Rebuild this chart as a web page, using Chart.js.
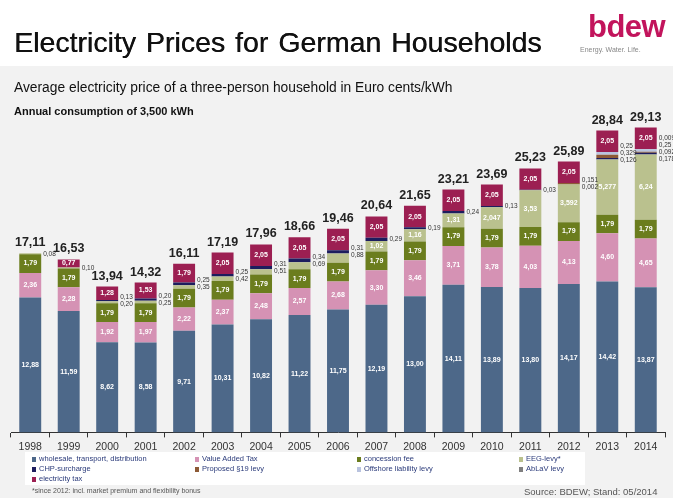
<!DOCTYPE html>
<html>
<head>
<meta charset="utf-8">
<script src="https://cdn.jsdelivr.net/npm/chart.js@4"></script>
<style>
  body { margin: 0; background: #fff; font-family: "Liberation Sans", Arial, sans-serif; }
  #page { position: relative; width: 673px; height: 498px; overflow: hidden; }
  #band { position: absolute; left: 0; top: 66px; width: 673px; height: 432px; background: #f2f2f2; }
  #chart { position: absolute; left: 0; top: 0; }
  .txt { position: absolute; white-space: nowrap; }
  #title { left: 14px; top: 26px; font-size: 28.5px; color: #111; text-shadow: 0.4px 0 0 #111; word-spacing: 2px; }
  #logo { left: 588px; top: 9px; font-size: 31px; font-weight: bold; color: #c2145c; letter-spacing: -0.5px; }
  #claim { left: 580px; top: 46px; font-size: 7px; color: #888; }
  #sub1 { left: 14px; top: 80px; font-size: 13.8px; color: #111; }
  #sub2 { left: 14px; top: 105px; font-size: 11px; font-weight: bold; color: #111; }
  #legend { position: absolute; left: 25px; top: 452px; width: 560px; height: 33px; background: #fff; }
  .lg { position: absolute; font-size: 7.5px; color: #2a3a7a; white-space: nowrap; }
  .lg i { display: inline-block; width: 4px; height: 5px; margin-right: 3px; vertical-align: middle; }
  #foot { left: 32px; top: 487px; font-size: 7px; color: #555; }
  #source { left: 524px; top: 486px; font-size: 9.5px; color: #555; }
</style>
</head>
<body>
<div id="page">
  <div id="band"></div>
  <canvas id="chart" width="673" height="498"></canvas>
  <div class="txt" id="title">Electricity Prices for German Households</div>
  <div class="txt" id="logo">bdew</div>
  <div class="txt" id="claim">Energy. Water. Life.</div>
  <div class="txt" id="sub1">Average electricity price of a three-person household in Euro cents/kWh</div>
  <div class="txt" id="sub2">Annual consumption of 3,500 kWh</div>
  <div id="legend"></div>
  <div class="txt" id="foot">*since 2012: incl. market premium and flexibility bonus</div>
  <div class="txt" id="source">Source: BDEW; Stand: 05/2014</div>
</div>
<script>
// Data (Euro cents/kWh)
const years = ['1998', '1999', '2000', '2001', '2002', '2003', '2004', '2005', '2006',
               '2007', '2008', '2009', '2010', '2011', '2012', '2013', '2014'];
const totals = [17.11, 16.53, 13.94, 14.32, 16.11, 17.19, 17.96, 18.66, 19.46,
                20.64, 21.65, 23.21, 23.69, 25.23, 25.89, 28.84, 29.13];
const generation = [12.88, 11.59, 8.62, 8.58, 9.71, 10.31, 10.82, 11.22, 11.75,
                    12.19, 13.00, 14.11, 13.89, 13.80, 14.17, 14.42, 13.87];
const vat = [2.36, 2.28, 1.92, 1.97, 2.22, 2.37, 2.48, 2.57, 2.68,
             3.30, 3.46, 3.71, 3.78, 4.03, 4.13, 4.60, 4.65];
const concession = [1.79, 1.79, 1.79, 1.79, 1.79, 1.79, 1.79, 1.79, 1.79,
                    1.79, 1.79, 1.79, 1.79, 1.79, 1.79, 1.79, 1.79];
const eeg = [0.08, 0.10, 0.20, 0.25, 0.35, 0.42, 0.51, 0.69, 0.88,
             1.02, 1.16, 1.31, 2.047, 3.530, 3.592, 5.277, 6.24];
const chp = [0, 0, 0.13, 0.20, 0.25, 0.25, 0.31, 0.34, 0.31,
             0.29, 0.19, 0.24, 0.13, 0.03, 0.002, 0.126, 0.178];
const levy19 = [0, 0, 0, 0, 0, 0, 0, 0, 0, 0, 0, 0, 0, 0, 0.151, 0.329, 0.092];
const offshore = [0, 0, 0, 0, 0, 0, 0, 0, 0, 0, 0, 0, 0, 0, 0, 0.25, 0.25];
const ablav = [0, 0, 0, 0, 0, 0, 0, 0, 0, 0, 0, 0, 0, 0, 0, 0, 0.009];
const elecTax = [0, 0.77, 1.28, 1.53, 1.79, 2.05, 2.05, 2.05, 2.05,
                 2.05, 2.05, 2.05, 2.05, 2.05, 2.05, 2.05, 2.05];

const series = [
    { label: 'wholesale, transport, distribution', data: generation, color: '#4d6889' },
    { label: 'Value Added Tax', data: vat, color: '#d592b4' },
    { label: 'concession fee', data: concession, color: '#6b7d1e' },
    { label: 'EEG-levy*', data: eeg, color: '#bac18e' },
    { label: 'CHP-surcharge', data: chp, color: '#1d1d5e' },
    { label: 'Proposed §19 levy', data: levy19, color: '#8d5a36' },
    { label: 'Offshore liability levy', data: offshore, color: '#b9c3df' },
    { label: 'AbLaV levy', data: ablav, color: '#7f7f7f' },
    { label: 'electricity tax', data: elecTax, color: '#9c1f52' }
];

function fmt(v) {
    const s = String(v);
    const dec = s.indexOf('.') < 0 ? 0 : s.length - s.indexOf('.') - 1;
    return v.toFixed(Math.max(2, dec)).replace('.', ',');
}

// HTML legend in four columns
const legendBox = document.getElementById('legend');
const colX = [7, 170, 332, 494];
series.forEach((s, i) => {
    const el = document.createElement('div');
    el.className = 'lg';
    el.style.left = colX[i % 4] + 'px';
    el.style.top = (2 + Math.floor(i / 4) * 10) + 'px';
    el.innerHTML = '<i style="background:' + s.color + '"></i>' + s.label;
    legendBox.appendChild(el);
});

// Labels inside / beside segments and totals on top
const labelPlugin = {
    id: 'segLabels',
    afterDatasetsDraw(chart) {
        const ctx = chart.ctx;
        ctx.save();
        years.forEach((yr, i) => {
            const side = [];
            let top = null, cx = 0, right = 0;
            chart.data.datasets.forEach((ds, d) => {
                const v = ds.data[i];
                if (!v) return;
                const bar = chart.getDatasetMeta(d).data[i];
                const p = bar.getProps(['x', 'y', 'base', 'width'], true);
                cx = p.x; right = p.x + p.width / 2;
                top = top === null ? p.y : Math.min(top, p.y);
                if (v >= 0.7 && d !== 3 || v >= 1) {
                    ctx.font = 'bold 7px "Liberation Sans", Arial, sans-serif';
                    ctx.fillStyle = '#ffffff';
                    ctx.textAlign = 'center';
                    ctx.textBaseline = 'middle';
                    ctx.fillText(fmt(v), p.x, (p.y + p.base) / 2);
                } else {
                    side.push({ v: v, y: (p.y + p.base) / 2 });
                }
            });
            // small values to the right of the bar
            side.sort((a, b) => a.y - b.y);
            ctx.font = '6.5px "Liberation Sans", Arial, sans-serif';
            ctx.fillStyle = '#333';
            ctx.textAlign = 'left';
            ctx.textBaseline = 'middle';
            const startY = side.length ? side[0].y - (side.length - 1) * 3.5 : 0;
            side.forEach((s, k) => {
                ctx.fillText(fmt(s.v), right + 2, Math.max(startY, top - 4) + k * 7);
            });
            // totals
            ctx.font = 'bold 12.5px "Liberation Sans", Arial, sans-serif';
            ctx.fillStyle = '#222';
            ctx.textAlign = 'center';
            ctx.textBaseline = 'alphabetic';
            ctx.fillText(fmt(totals[i]), cx, top - 7);
        });
        ctx.restore();
    }
};

const chart = new Chart(document.getElementById('chart').getContext('2d'), {
    type: 'bar',
    data: {
        labels: years,
        datasets: series.map(s => ({
            label: s.label,
            data: s.data,
            backgroundColor: s.color,
            borderWidth: 0,
            stack: 'price',
            barPercentage: 0.57,
            categoryPercentage: 1.0
        }))
    },
    options: {
        responsive: false,
        animation: false,
        devicePixelRatio: 1,
        layout: { padding: { left: 11, right: 8, top: 108, bottom: 42 } },
        scales: {
            x: {
                stacked: true,
                grid: { display: true, drawOnChartArea: false, offset: true, tickLength: 5, color: '#333' },
                border: { display: true, color: '#333', width: 1 },
                ticks: { color: '#333', font: { size: 10.5, family: '"Liberation Sans", Arial, sans-serif' }, padding: 3 }
            },
            y: {
                stacked: true,
                display: false,
                min: 0,
                max: 31
            }
        },
        plugins: {
            legend: { display: false },
            tooltip: { enabled: false }
        }
    },
    plugins: [labelPlugin]
});
</script>
</body>
</html>
